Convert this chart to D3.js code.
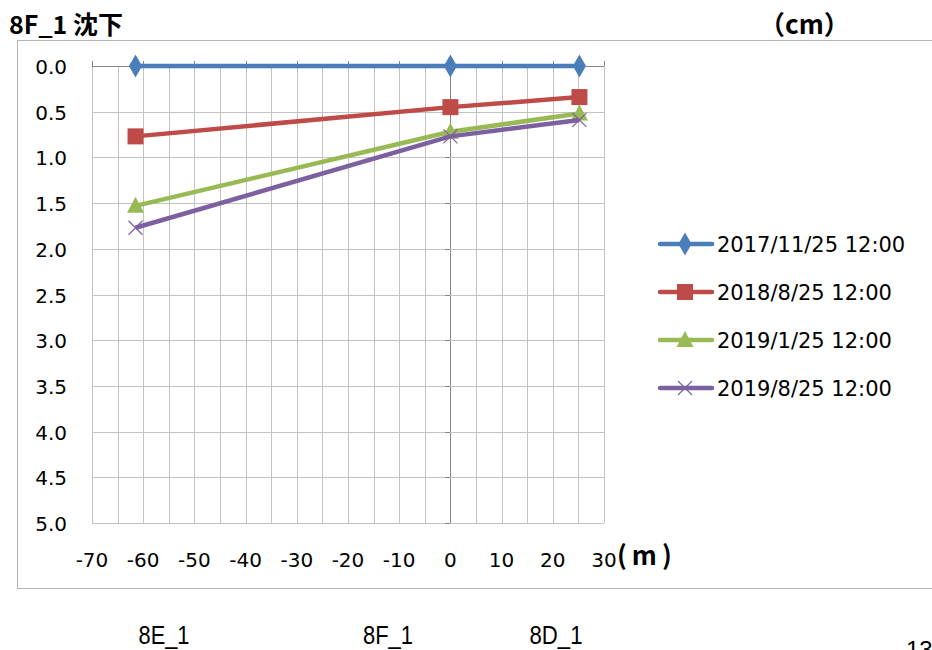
<!DOCTYPE html>
<html>
<head>
<meta charset="utf-8">
<script src="https://cdn.jsdelivr.net/npm/d3@7"></script>
<style>
    body { margin: 0; background: #fff; }
    svg { display: block; }
</style>
</head>
<body>
<div id="chart"></div>
<script>
// data
var xVals = [-61.5, 0, 25.2];
var pointNames = ["8E_1", "8F_1", "8D_1"];
var seriesNames = ["2017/11/25 12:00", "2018/8/25 12:00", "2019/1/25 12:00", "2019/8/25 12:00"];
var s2017_11 = [0, 0, 0];
var s2018_08 = [0.77, 0.45, 0.34];
var s2019_01 = [1.53, 0.72, 0.52];
var s2019_08 = [1.77, 0.77, 0.59];
var xTicks = [-70, -60, -50, -40, -30, -20, -10, 0, 10, 20, 30];
var yTicks = [0, 0.5, 1, 1.5, 2, 2.5, 3, 3.5, 4, 4.5, 5];

var width = 932, height = 650;
var colors = ["#4a7ebb", "#be4b48", "#98b954", "#7d60a0"];
var shapes = ["diamond", "square", "triangle", "cross"];
var series = [s2017_11, s2018_08, s2019_01, s2019_08].map(function (v, i) {
    return { name: seriesNames[i], color: colors[i], shape: shapes[i],
        points: v.map(function (y, j) { return { x: xVals[j], y: y }; }) };
});

var svg = d3.select("#chart").append("svg")
    .attr("width", width)
    .attr("height", height);

var x = d3.scaleLinear().domain([-70, 30]).range([92, 604]);
var y = d3.scaleLinear().domain([0, 5]).range([66, 523]);   // settlement grows downward

// outer chart frame (runs off the right edge)
svg.append("rect")
    .attr("x", 17.5).attr("y", 40.5)
    .attr("width", 1000).attr("height", 548)
    .attr("fill", "none")
    .attr("stroke", "#b4b4b4");

// titles
svg.append("text")
    .attr("x", 9).attr("y", 34)
    .style("font", "bold 25px 'Noto Sans CJK JP'")
    .text("8F_1 沈下");
svg.append("text")
    .attr("x", 759).attr("y", 34)
    .style("font", "bold 26px 'Noto Sans CJK JP'")
    .text("（cm）");
svg.append("text")
    .attr("x", 617).attr("y", 565)
    .style("font", "bold 26px 'Noto Sans CJK JP'")
    .style("letter-spacing", "5px")
    .text("(m)");

// grid
var minor = d3.range(-70, 30.1, 5);
svg.append("g").selectAll("line").data(minor).join("line")
    .attr("x1", function (d) { return Math.round(x(d)) + 0.5; })
    .attr("x2", function (d) { return Math.round(x(d)) + 0.5; })
    .attr("y1", y(0)).attr("y2", y(5))
    .attr("stroke", function (d) { return d === 0 ? "#868686" : "#c3c3c3"; });
svg.append("g").selectAll("line").data(yTicks).join("line")
    .attr("x1", x(-70)).attr("x2", x(30))
    .attr("y1", function (d) { return Math.round(y(d)) + 0.5; })
    .attr("y2", function (d) { return Math.round(y(d)) + 0.5; })
    .attr("stroke", function (d) { return d === 0 ? "#868686" : "#c3c3c3"; });

// small tick marks on the axes crossing at (0,0)
svg.append("g").selectAll("line").data(yTicks).join("line")
    .attr("x1", Math.round(x(0)) - 5).attr("x2", Math.round(x(0)))
    .attr("y1", function (d) { return Math.round(y(d)) + 0.5; })
    .attr("y2", function (d) { return Math.round(y(d)) + 0.5; })
    .attr("stroke", "#868686");
svg.append("g").selectAll("line").data(xTicks).join("line")
    .attr("x1", function (d) { return Math.round(x(d)) + 0.5; })
    .attr("x2", function (d) { return Math.round(x(d)) + 0.5; })
    .attr("y1", y(0) - 5).attr("y2", y(0))
    .attr("stroke", "#868686");

// tick labels
svg.append("g").selectAll("text").data(yTicks).join("text")
    .attr("x", 67)
    .attr("y", function (d) { return y(d) + 8; })
    .attr("text-anchor", "end")
    .style("font", "20px 'DejaVu Sans'")
    .text(function (d) { return d3.format(".1f")(d); });
svg.append("g").selectAll("text").data(xTicks).join("text")
    .attr("x", function (d) { return x(d); })
    .attr("y", 567)
    .attr("text-anchor", "middle")
    .style("font", "20px 'DejaVu Sans'")
    .text(function (d) { return d; });

// marker drawing
function marker(g, shape, color) {
    if (shape === "diamond") {
        g.append("path").attr("d", d3.symbol(d3.symbolDiamond, 150)()).attr("fill", color);
    } else if (shape === "square") {
        g.append("rect").attr("x", -8).attr("y", -8).attr("width", 16).attr("height", 16).attr("fill", color);
    } else if (shape === "triangle") {
        g.append("path").attr("d", "M0,-9L8.5,7L-8.5,7Z").attr("fill", color);
    } else {
        g.append("path").attr("d", "M-7,-7L7,7M-7,7L7,-7").attr("stroke", color).attr("stroke-width", 1.2);
    }
}

var line = d3.line().x(function (d) { return x(d.x); }).y(function (d) { return y(d.y); });

series.forEach(function (s) {
    svg.append("path")
        .datum(s.points)
        .attr("d", line)
        .attr("fill", "none")
        .attr("stroke", s.color)
        .attr("stroke-width", 4.5)
        .attr("stroke-linejoin", "round");
    svg.append("g").selectAll("g").data(s.points).join("g")
        .attr("transform", function (d) { return "translate(" + x(d.x) + "," + y(d.y) + ")"; })
        .each(function () { marker(d3.select(this), s.shape, s.color); });
});

// legend
var legend = svg.append("g").selectAll("g").data(series).join("g")
    .attr("transform", function (d, i) { return "translate(0," + (244 + i * 48) + ")"; });
legend.append("line")
    .attr("x1", 660).attr("x2", 712)
    .attr("stroke", function (d) { return d.color; })
    .attr("stroke-width", 4.5)
    .attr("stroke-linecap", "round");
legend.append("g")
    .attr("transform", "translate(685,0)")
    .each(function (d) { marker(d3.select(this), d.shape, d.color); });
legend.append("text")
    .attr("x", 717).attr("y", 8)
    .style("font", "21px 'DejaVu Sans'")
    .text(function (d) { return d.name; });

// point names below the chart (narrow gothic in the original)
var nameX = [164, 388, 556];
var nameW = [51, 50, 53];
svg.append("g").selectAll("text").data(pointNames).join("text")
    .attr("x", function (d, i) { return nameX[i] - nameW[i] / 2; })
    .attr("y", 644)
    .attr("textLength", function (d, i) { return nameW[i]; })
    .attr("lengthAdjust", "spacingAndGlyphs")
    .style("font", "26px 'Liberation Sans'")
    .text(function (d) { return d; });

// page number, cut off at the bottom like the original
svg.append("text")
    .attr("x", 906).attr("y", 658)
    .style("font", "24px 'Liberation Sans'")
    .text("13");
</script>
</body>
</html>
